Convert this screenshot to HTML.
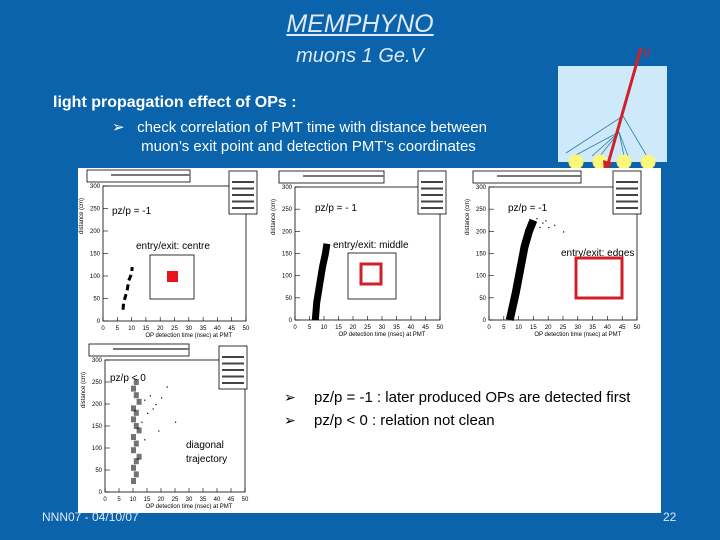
<!DOCTYPE html>
<html><head><meta charset="utf-8"><style>
body{margin:0;width:720px;height:540px;background:#0a63ab;overflow:hidden;font-family:"Liberation Sans",sans-serif;position:relative}
.t{position:absolute;white-space:nowrap}
</style></head><body>
<div class="t" style="left:0;width:720px;text-align:center;top:10px;font-size:25px;font-style:italic;color:#dfe9f4;text-decoration:underline">MEMPHYNO</div>
<div class="t" style="left:0;width:720px;text-align:center;top:45px;font-size:20px;font-style:italic;color:#dfe9f4">muons 1 Ge.V</div>
<div class="t" style="left:53px;top:94px;font-size:16px;font-weight:bold;color:#fff">light propagation effect of OPs :</div>
<div class="t" style="left:112px;top:118px;font-size:15px;color:#fff;line-height:19px">&#x27A2;&nbsp;&nbsp;&nbsp;check correlation of PMT time with distance between<br>&nbsp;&nbsp;&nbsp;&nbsp;&nbsp;&nbsp;&nbsp;muon’s exit point and detection PMT’s coordinates</div>
<svg width="720" height="540" style="position:absolute;left:0;top:0">
<g>
<rect x="558" y="66" width="109" height="96" fill="#cde9fa"/>
<g stroke="#2a7fa0" stroke-width="0.8" fill="none">
<line x1="623" y1="116" x2="566" y2="153"/><line x1="623" y1="116" x2="648" y2="158"/>
<line x1="619" y1="132" x2="576" y2="155"/><line x1="619" y1="132" x2="592" y2="156"/>
<line x1="619" y1="132" x2="600" y2="156"/><line x1="619" y1="132" x2="624" y2="156"/>
<line x1="619" y1="132" x2="628" y2="156"/>
</g>
<circle cx="576" cy="162" r="7.5" fill="#fbf57a"/><circle cx="600" cy="162" r="7.5" fill="#fbf57a"/>
<circle cx="624" cy="162" r="7.5" fill="#fbf57a"/><circle cx="648" cy="162" r="7.5" fill="#fbf57a"/>
<line x1="641" y1="48" x2="608" y2="164" stroke="#d0202a" stroke-width="3"/>
<polygon points="604,172 603,160 613,163" fill="#d0202a"/>
<text x="644" y="55" font-size="12" fill="#d0202a">μ</text>
</g>
<rect x="78" y="168" width="583" height="345" fill="#fff"/>
<g id="plots"></g>
<text x="314" y="402" font-size="15" fill="#000">pz/p = -1 : later produced OPs are detected first</text>
<text x="314" y="425" font-size="15" fill="#000">pz/p &lt; 0  : relation not clean</text>
<text x="284" y="402" font-size="14">&#x27A2;</text>
<text x="284" y="425" font-size="14">&#x27A2;</text>
<text x="42" y="521" font-size="12" fill="#dfe9f4">NNN07 - 04/10/07</text>
<text x="663" y="521" font-size="12" fill="#dfe9f4">22</text>
</svg>
<script>
// data: x = OP detection time (ns), y = distance (cm)
const xTicks=[0,5,10,15,20,25,30,35,40,45,50];
const yTicks=[0,50,100,150,200,250,300];
const p1Line=[[7,25],[7.2,40],[8.5,70],[9,90],[10,105],[10.2,120]];
const p2Line=[[7,0],[7.5,40],[8.5,80],[9.5,120],[10.5,150],[11,172]];
const p3Line=[[7,0],[8,30],[9,60],[10,95],[11,130],[12,165],[13.5,200],[15,225]];
const p3Extra=[[16,230],[18,220],[20,210],[22,215],[25,200],[14,205],[17,210],[19,225]];
const p4Dist=[25,40,55,70,80,95,110,125,140,150,165,180,190,205,220,235,250];
const p4Time=[10,11,10,11,12,10,11,10,12,11,10,11,10,12,11,10,11];
const p4Sparse=[[14,210],[16,220],[18,200],[20,215],[15,180],[13,160],[17,190],[25,160],[22,240],[19,140],[14,120]];
const panels=[
 {f:[103,186,246,321],band:p1Line,w:3,label:"pz/p = -1",lx:112,ly:214,ent:"entry/exit: centre",ex:136,ey:249,box:[150,255,44,44],kind:"fill",stats:[229,171]},
 {f:[295,187,440,320],band:p2Line,w:7,label:"pz/p = - 1",lx:315,ly:211,ent:"entry/exit: middle",ex:333,ey:248,box:[348,253,48,46],kind:"mid",stats:[418,171]},
 {f:[489,187,637,320],band:p3Line,w:8,extra:p3Extra,label:"pz/p = -1",lx:508,ly:211,ent:"entry/exit: edges",ex:561,ey:256,box:[576,258,46,40],kind:"edge",stats:[613,171]},
 {f:[105,360,245,492],label:"pz/p < 0",lx:110,ly:381,ent:"",box:null,stats:[219,346],cloud:true}
];
const NS="http://www.w3.org/2000/svg";
const g=document.getElementById('plots');
function mk(t,a,p){const e=document.createElementNS(NS,t);for(const k in a)e.setAttribute(k,a[k]);(p||g).appendChild(e);return e;}
panels.forEach((P,i)=>{
 const [x0,y0,x1,y1]=P.f;
 const sx=v=>x0+(x1-x0)*v/50, sy=v=>y1-(y1-y0)*v/300;
 const pg=mk('g',{});
 
 
 mk('rect',{x:x0,y:y0,width:x1-x0,height:y1-y0,fill:'none',stroke:'#000','stroke-width':0.8},pg);
 mk('rect',{x:x0-16,y:y0-16,width:x1-x0-40,height:12,fill:'#fff',stroke:'#000','stroke-width':0.8},pg);
 mk('rect',{x:x0+8,y:y0-12,width:x1-x0-64,height:2,fill:'#777'},pg);
 const st=mk('rect',{x:P.stats[0],y:P.stats[1],width:28,height:43,fill:'#fff',stroke:'#000','stroke-width':0.8},pg);
 
 for(let k=0;k<5;k++)mk('rect',{x:P.stats[0]+3,y:P.stats[1]+10+k*6.5,width:22,height:2,fill:'#444'},pg);
 xTicks.forEach(t=>{mk('line',{x1:sx(t),x2:sx(t),y1:y1,y2:y1-4,stroke:'#000','stroke-width':0.6},pg);
  const tx=mk('text',{x:sx(t),y:y1+9,'font-size':6,'text-anchor':'middle'},pg);tx.textContent=t;});
 yTicks.forEach(t=>{mk('line',{x1:x0,x2:x0+5,y1:sy(t),y2:sy(t),stroke:'#000','stroke-width':0.6},pg);
  const tx=mk('text',{x:x0-3,y:sy(t)+2,'font-size':6,'text-anchor':'end'},pg);tx.textContent=t;});
 const xl=mk('text',{x:x0+(x1-x0)*0.6,y:y1+16,'font-size':6,'text-anchor':'middle'},pg);xl.textContent="OP detection time (nsec) at PMT";
 const yl=mk('text',{x:x0-20,y:y0+30,'font-size':6,transform:`rotate(-90 ${x0-20} ${y0+30})`,'text-anchor':'middle'},pg);yl.textContent="distance (cm)";
 if(P.band){const pts=P.band.map(d=>sx(d[0])+','+sy(d[1])).join(' ');
  const b=mk('polyline',{points:pts,fill:'none',stroke:'#000','stroke-width':P.w,'stroke-dasharray':i==0?'6 4':'none'},pg);
  }
 if(P.extra)P.extra.forEach(d=>mk('rect',{x:sx(d[0]),y:sy(d[1]),width:1.2,height:1.2,fill:'#000'},pg));
 if(P.cloud){p4Dist.forEach((d,k)=>mk('rect',{x:sx(p4Time[k])-2,y:sy(d)-3,width:5,height:6,fill:'#000',opacity:0.55},pg));
  p4Sparse.forEach(d=>mk('rect',{x:sx(d[0]),y:sy(d[1]),width:1.2,height:1.2,fill:'#000'},pg));
  const a=mk('text',{x:186,y:448,'font-size':10},pg);a.textContent="diagonal";
  const b=mk('text',{x:186,y:462,'font-size':10},pg);b.textContent="trajectory";}
 const lb=mk('text',{x:P.lx,y:P.ly,'font-size':10},pg);lb.textContent=P.label;
 if(P.ent){const e=mk('text',{x:P.ex,y:P.ey,'font-size':10},pg);e.textContent=P.ent;}
 if(P.box){const [bx,by,bw,bh]=P.box;
  if(P.kind!="edge")mk('rect',{x:bx,y:by,width:bw,height:bh,fill:'none',stroke:'#000','stroke-width':0.8},pg);
  if(P.kind=="fill")mk('rect',{x:bx+17,y:by+16,width:11,height:11,fill:'#e8141c'},pg);
  if(P.kind=="mid")mk('rect',{x:bx+13,y:by+11,width:20,height:20,fill:'none',stroke:'#d0202a','stroke-width':3},pg);
  if(P.kind=="edge")mk('rect',{x:bx,y:by,width:bw,height:bh,fill:'none',stroke:'#d0202a','stroke-width':3},pg);}
});
</script>
</body></html>
